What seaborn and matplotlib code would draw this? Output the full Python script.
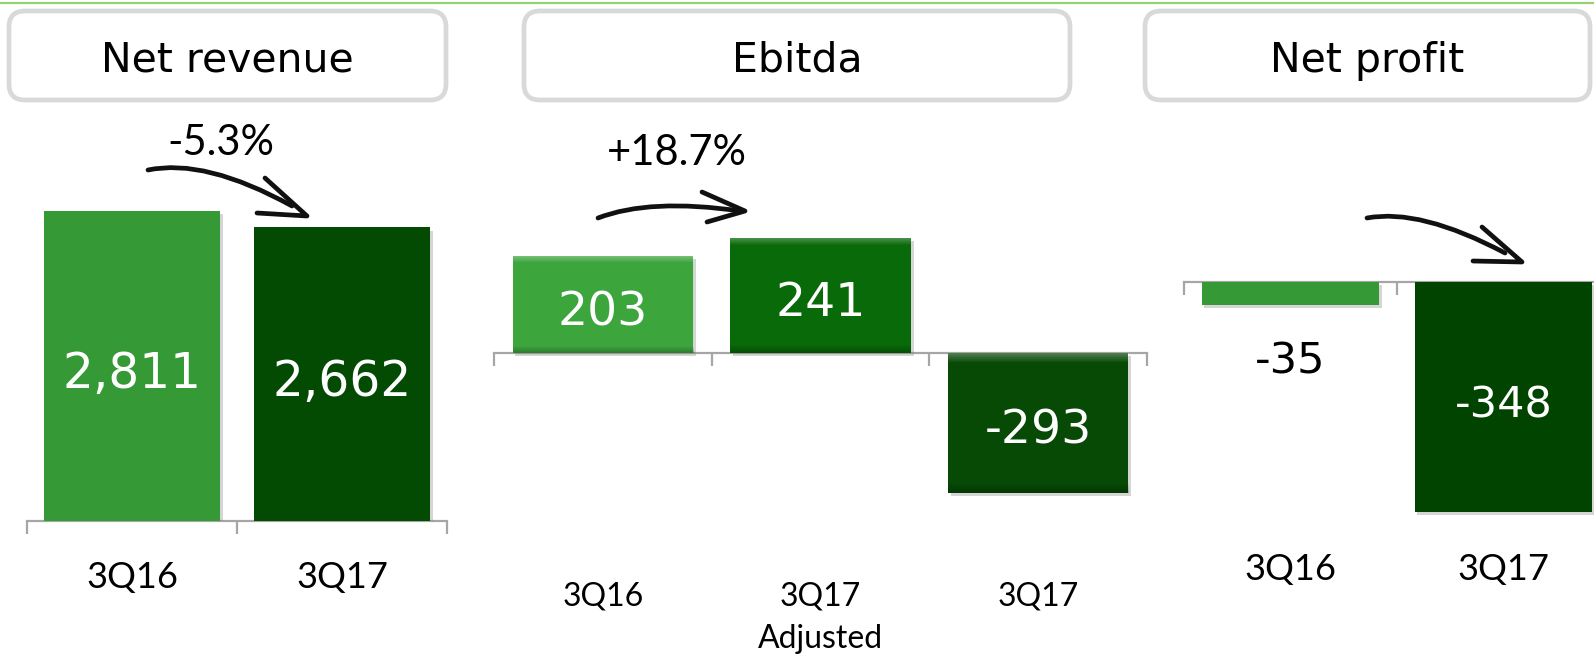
import matplotlib
matplotlib.use("Agg")
import numpy as np
import pandas as pd
import seaborn as sns
import matplotlib.pyplot as plt
import matplotlib.transforms as mtransforms
import matplotlib.patheffects as pe
from matplotlib.patches import FancyBboxPatch, PathPatch
from matplotlib.path import Path
from matplotlib.lines import Line2D

# ---------------- data ----------------
rev_cats = ["3Q16", "3Q17"]
rev_vals = [2811, 2662]
ebitda_cats = ["3Q16", "3Q17\nAdjusted", "3Q17"]
ebitda_vals = [203, 241, -293]
profit_cats = ["3Q16", "3Q17"]
profit_vals = [-35, -348]
titles = ["Net revenue", "Ebitda", "Net profit"]
changes = ["-5.3%", "+18.7%"]

# ---------------- style ----------------
sns.set_theme(style="white")
plt.rcParams["font.family"] = ["DejaVu Sans"]
plt.rcParams["text.color"] = "black"
LABEL_FONT = ["Lato", "DejaVu Sans"]

W, H = 1594, 655
fig = plt.figure(figsize=(W / 100, H / 100), dpi=100)
fig.patch.set_facecolor("white")


def fy(y):
    return 1 - y / H


def add_ax(left, right, top, bottom):
    return fig.add_axes([left / W, fy(bottom), (right - left) / W, (bottom - top) / H])


AXIS_GRAY = "#a6a6a6"


def add_bevel(ax, p):
    x0, y0 = p.get_x(), p.get_y()
    w, h = p.get_width(), p.get_height()
    ylo, yhi = min(y0, y0 + h), max(y0, y0 + h)
    n = 200
    rgba = np.zeros((n, 2, 4))
    t = np.linspace(0, 1, n)  # 0 = top row of image
    alpha_top = np.clip(1 - t / 0.07, 0, 1) * 0.30
    alpha_bot = np.clip((t - 0.93) / 0.07, 0, 1) * 0.25
    rgba[:, :, :3] = np.where((alpha_top > 0)[:, None, None], 1.0, 0.0)
    rgba[:, :, 3] = (alpha_top + alpha_bot)[:, None]
    im = ax.imshow(rgba, extent=(x0, x0 + w, ylo, yhi), aspect="auto",
                   origin="upper", zorder=p.get_zorder() + 0.1, interpolation="bilinear")
    im.set_clip_path(p)


def panel(ax, cats, vals, colors, width, ylim, label_base, label_size,
          val_size, line_gap=43, bevel=False):
    df = pd.DataFrame({"cat": cats, "val": vals})
    sns.barplot(data=df, x="cat", y="val", hue="cat", order=cats, hue_order=cats,
                palette=colors, width=width, saturation=1, legend=False, ax=ax)
    for p in list(ax.patches):
        p.set_linewidth(0)
        p.set_path_effects([pe.SimplePatchShadow(offset=(2, -2.5), shadow_rgbFace="#777777",
                                                 alpha=0.3), pe.Normal()])
        if bevel:
            add_bevel(ax, p)
    ax.set_xlim(-0.5, len(cats) - 0.5)
    ax.set_ylim(*ylim)
    for s in ["left", "right", "top"]:
        ax.spines[s].set_visible(False)
    ax.spines["bottom"].set_position(("data", 0))
    ax.spines["bottom"].set_color(AXIS_GRAY)
    ax.spines["bottom"].set_linewidth(1.6)
    ax.spines["bottom"].set_zorder(0.5)
    ax.set_xticks(np.arange(len(cats) + 1) - 0.5)
    ax.set_xticklabels([])
    ax.set_yticks([])
    ax.tick_params(axis="x", bottom=True, length=9, width=1.6, color=AXIS_GRAY,
                   direction="out")
    ax.set_xlabel("")
    ax.set_ylabel("")
    ax.patch.set_alpha(0)
    # category labels
    trans = mtransforms.blended_transform_factory(ax.transData, fig.transFigure)
    for i, c in enumerate(cats):
        for k, line in enumerate(c.split("\n")):
            ax.text(i, fy(label_base + k * line_gap), line, transform=trans,
                    ha="center", va="baseline", fontsize=label_size,
                    family=LABEL_FONT, color="black")
    # value labels
    span = ylim[1] - ylim[0]
    for i, v in enumerate(vals):
        if abs(v) / span < 0.12:
            ax.annotate(f"{v:,}", xy=(i, v), xytext=(0, -41), textcoords="offset points",
                        ha="center", va="center", fontsize=val_size, color="black",
                        zorder=5)
        else:
            ax.annotate(f"{v:,}", xy=(i, v / 2), xytext=(0, -6), textcoords="offset points",
                        ha="center", va="center", fontsize=val_size, color="white",
                        zorder=5)


# panel 1: Net revenue
ax1 = add_ax(27, 447, 150, 521)
panel(ax1, rev_cats, rev_vals, ["#359a35", "#034a03"], 0.84, (0, 3360),
      588, 26, 35)

# panel 2: Ebitda
ax2 = add_ax(494, 1147, 200, 520)
panel(ax2, ebitda_cats, ebitda_vals, ["#3ca53c", "#086a08", "#064a06"], 0.83,
      (-350, 320), 605, 23, 34, line_gap=43, bevel=True)

# panel 3: Net profit
ax3 = add_ax(1184, 1610, 200, 530)
panel(ax3, profit_cats, profit_vals, ["#359a35", "#004400"], 0.835, (-376, 124),
      580, 26, 31)

# ---------------- decorations ----------------
fig.add_artist(Line2D([0, 1], [fy(3), fy(3)], transform=fig.transFigure,
                      color="#92d36e", lw=1.6))

boxes = [(9, 446), (524, 1070), (1145, 1590)]
for (x0, x1), t in zip(boxes, titles):
    y0, y1 = 11, 100
    b = FancyBboxPatch((x0 / 100, (H - y1) / 100), (x1 - x0) / 100, (y1 - y0) / 100,
                       boxstyle="round,pad=0,rounding_size=0.16",
                       transform=fig.dpi_scale_trans, fc="white", ec="#d9d9d9", lw=3.4)
    fig.add_artist(b)
    fig.text((x0 + x1) / 2 / W, fy(72), t, ha="center", va="baseline", fontsize=29.5,
             color="black")

fig.text(221 / W, fy(155), changes[0], ha="center", va="baseline", fontsize=30,
         family=LABEL_FONT, color="black")
fig.text(677 / W, fy(165), changes[1], ha="center", va="baseline", fontsize=30,
         family=LABEL_FONT, color="black")


def draw_arrow(p0, c, p2, tip, arm1, arm2):
    def P(pt):
        return (pt[0] / 100, (H - pt[1]) / 100)
    shaft = Path([P(p0), P(c), P(p2)], [Path.MOVETO, Path.CURVE3, Path.CURVE3])
    fig.add_artist(PathPatch(shaft, transform=fig.dpi_scale_trans, fc="none",
                             ec="#111111", lw=3.4, capstyle="round"))
    head = Path([P(arm1), P(tip), P(arm2)], [Path.MOVETO, Path.LINETO, Path.LINETO])
    fig.add_artist(PathPatch(head, transform=fig.dpi_scale_trans, fc="none",
                             ec="#111111", lw=3.4, capstyle="round", joinstyle="round"))


draw_arrow((148, 170), (205, 158), (292, 206), (307, 216), (265, 178), (257, 213))
draw_arrow((598, 218), (650, 198), (740, 211), (745, 211), (702, 192), (707, 222))
draw_arrow((1367, 218), (1420, 208), (1505, 253), (1522, 262), (1482, 227), (1473, 261))

fig.savefig("out.png", dpi=100, facecolor="white")
